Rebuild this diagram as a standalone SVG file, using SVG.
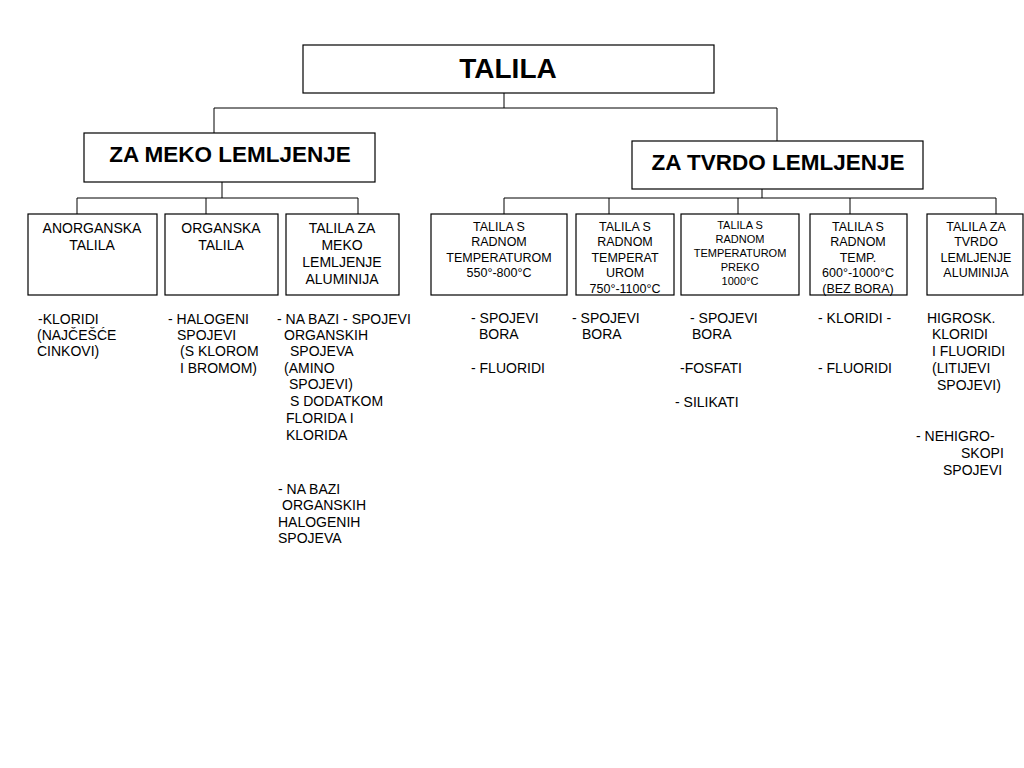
<svg xmlns="http://www.w3.org/2000/svg" width="1024" height="768" viewBox="0 0 1024 768">
<style>
.box{fill:#fff;stroke:#000;stroke-width:1.2}
.t{font-family:"Liberation Sans",Arial,sans-serif;fill:#000}
.h{font-weight:bold;text-anchor:middle}
.c{text-anchor:middle;font-size:14px}
.s{font-size:12.5px}
.xs{font-size:11px}
.n{font-size:14px}
#conn path{fill:none;stroke:#000;stroke-width:1}
</style>
<rect width="1024" height="768" fill="#fff"/>
<g id="conn">
<path d="M504 93V108M214 108H777M214 108V133M777 108V141"/>
<path d="M222 182V198M77 198H358M77 198V214M206 198V214M358 198V214"/>
<path d="M762 189V198M504 198H996M504 198V214M609 198V214M738 198V214M850 198V214M996 198V214"/>
</g>
<g id="n-talila"><rect class="box" x="303" y="45" width="411" height="48"/><text class="t h" x="508" y="78" font-size="28">TALILA</text></g>
<g id="n-meko"><rect class="box" x="84" y="133" width="291" height="49"/><text class="t h" x="230" y="162" font-size="22.5">ZA MEKO LEMLJENJE</text></g>
<g id="n-tvrdo"><rect class="box" x="632" y="141" width="291" height="48"/><text class="t h" x="778" y="170" font-size="22.5">ZA TVRDO LEMLJENJE</text></g>
<g id="n-anorg"><rect class="box" x="28" y="214" width="129" height="81"/><text class="t c" x="92" y="233">ANORGANSKA</text><text class="t c" x="92" y="250">TALILA</text></g>
<g id="n-org"><rect class="box" x="165" y="214" width="113" height="81"/><text class="t c" x="221" y="233">ORGANSKA</text><text class="t c" x="221" y="250">TALILA</text></g>
<g id="n-alum-meko"><rect class="box" x="286" y="214" width="113" height="81"/><text class="t c" x="342" y="233">TALILA ZA</text><text class="t c" x="342" y="250">MEKO</text><text class="t c" x="342" y="267">LEMLJENJE</text><text class="t c" x="342" y="284">ALUMINIJA</text></g>
<g id="n-550"><rect class="box" x="431" y="214" width="136" height="81"/><g class="t c s"><text x="499" y="231">TALILA S</text><text x="499" y="246">RADNOM</text><text x="499" y="262">TEMPERATUROM</text><text x="499" y="277">550°-800°C</text></g></g>
<g id="n-750"><rect class="box" x="576" y="214" width="98" height="81"/><g class="t c s"><text x="625" y="231">TALILA S</text><text x="625" y="246">RADNOM</text><text x="625" y="262">TEMPERAT</text><text x="625" y="277">UROM</text><text x="625" y="293">750°-1100°C</text></g></g>
<g id="n-1000"><rect class="box" x="681" y="214" width="118" height="81"/><g class="t c xs"><text x="740" y="229">TALILA S</text><text x="740" y="243">RADNOM</text><text x="740" y="257">TEMPERATUROM</text><text x="740" y="271">PREKO</text><text x="740" y="285">1000°C</text></g></g>
<g id="n-600"><rect class="box" x="810" y="214" width="97" height="81"/><g class="t c s"><text x="858" y="231">TALILA S</text><text x="858" y="246">RADNOM</text><text x="858" y="262">TEMP.</text><text x="858" y="277">600°-1000°C</text><text x="858" y="293">(BEZ BORA)</text></g></g>
<g id="n-alum-tvrdo"><rect class="box" x="927" y="214" width="96" height="81"/><g class="t c s"><text x="976" y="231">TALILA ZA</text><text x="976" y="246">TVRDO</text><text x="976" y="262">LEMLJENJE</text><text x="976" y="277">ALUMINIJA</text></g></g>
<g id="notes" class="t n" xml:space="preserve">
<text x="38" y="324">-KLORIDI</text><text x="37" y="340">(NAJČEŠĆE</text><text x="37" y="356">CINKOVI)</text>
<text x="168" y="324">- HALOGENI</text><text x="177" y="340">SPOJEVI</text><text x="180" y="356">(S KLOROM</text><text x="180" y="373">I BROMOM)</text>
<text x="277" y="324">- NA BAZI - SPOJEVI</text><text x="284" y="340">ORGANSKIH</text><text x="290" y="356">SPOJEVA</text><text x="284" y="373">(AMINO</text><text x="289" y="389">SPOJEVI)</text><text x="290" y="406">S DODATKOM</text><text x="286" y="423">FLORIDA I</text><text x="286" y="440">KLORIDA</text>
<text x="278" y="494">- NA BAZI</text><text x="282" y="510">ORGANSKIH</text><text x="278" y="527">HALOGENIH</text><text x="278" y="543">SPOJEVA</text>
<text x="471" y="323">- SPOJEVI</text><text x="479" y="339">BORA</text><text x="471" y="373">- FLUORIDI</text>
<text x="572" y="323">- SPOJEVI</text><text x="582" y="339">BORA</text>
<text x="690" y="323">- SPOJEVI</text><text x="692" y="339">BORA</text><text x="680" y="373">-FOSFATI</text><text x="675" y="407">- SILIKATI</text>
<text x="818" y="323">- KLORIDI   -</text><text x="818" y="373">- FLUORIDI</text>
<text x="927" y="323">HIGROSK.</text><text x="932" y="339">KLORIDI</text><text x="932" y="356">I FLUORIDI</text><text x="932" y="373">(LITIJEVI</text><text x="937" y="390">SPOJEVI)</text>
<text x="916" y="441">- NEHIGRO-</text><text x="961" y="458">SKOPI</text><text x="943" y="475">SPOJEVI</text>
</g>
</svg>
